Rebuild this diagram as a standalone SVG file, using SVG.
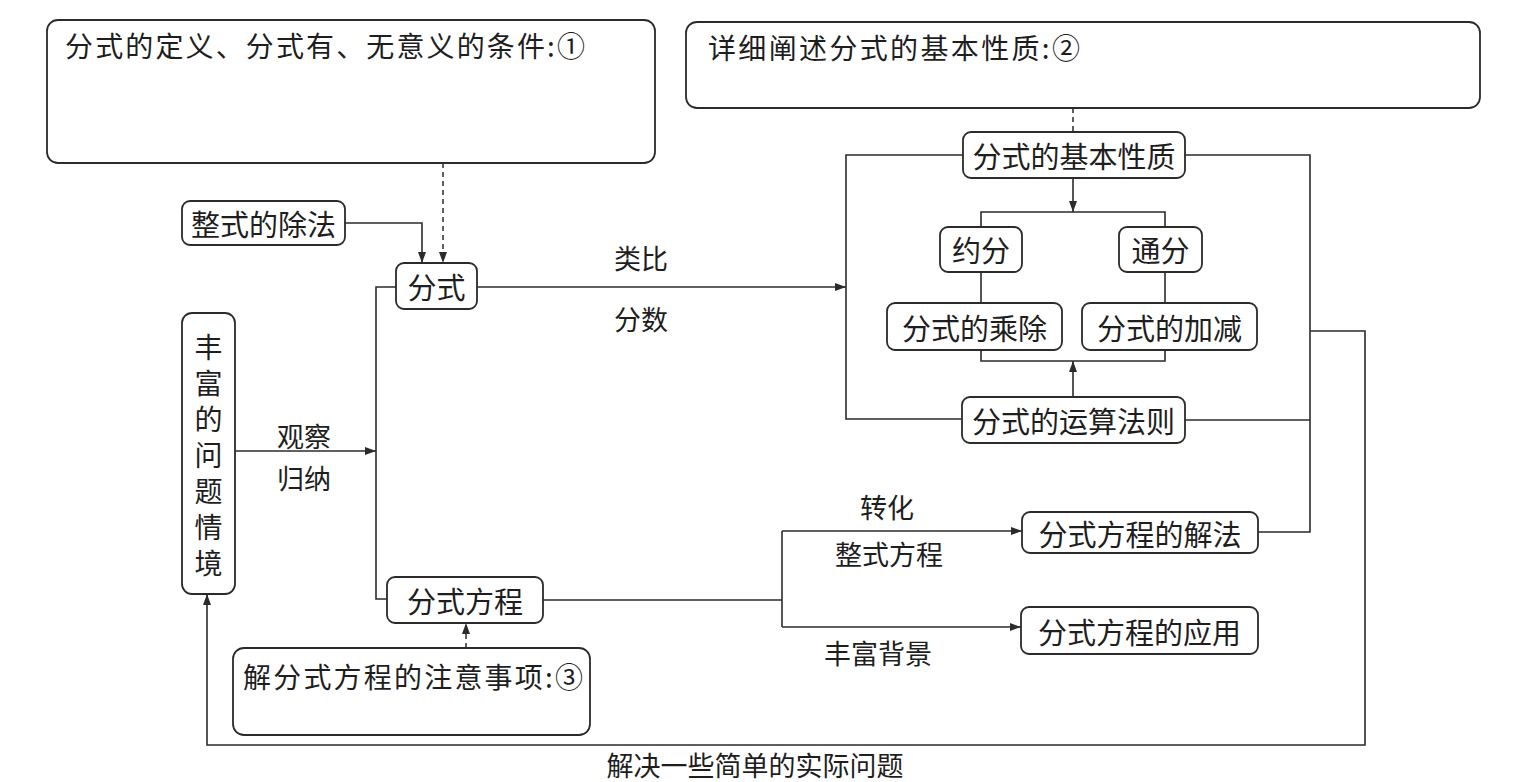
<svg xmlns="http://www.w3.org/2000/svg" width="1533" height="782" viewBox="0 0 1533 782">
<style>
.box{fill:#fff;stroke:#2b2b2b;stroke-width:1.8}
.ln{fill:none;stroke:#2b2b2b;stroke-width:1.6}
.dash{fill:none;stroke:#2b2b2b;stroke-width:1.5;stroke-dasharray:5 4}
text{font-family:"Noto Sans CJK SC","Noto Sans CJK JP",sans-serif;fill:#1e1e1e;dominant-baseline:central}
.t{font-size:29px;text-anchor:middle}
.n{font-size:28px}
.lab{font-size:27px;text-anchor:middle}
.v{font-size:28px;text-anchor:middle;writing-mode:vertical-rl;letter-spacing:8px}
</style>
<defs>
<marker id="ah" markerUnits="userSpaceOnUse" markerWidth="12" markerHeight="10" refX="11" refY="4" orient="auto">
<path d="M0,0 L11,4 L0,8 z" fill="#2b2b2b"/>
</marker>
</defs>

<g id="connectors">
<path class="dash" d="M443,163 V263" marker-end="url(#ah)"/>
<path class="ln" d="M345,223 H422 V263" marker-end="url(#ah)"/>
<path class="ln" d="M477,287 H846" marker-end="url(#ah)"/>
<path class="ln" d="M396,287 H376 V599 H387"/>
<path class="ln" d="M235,451 H376" marker-end="url(#ah)"/>
<path class="dash" d="M466,648 V623" marker-end="url(#ah)"/>
<path class="ln" d="M543,600 H782"/>
<path class="ln" d="M782,531 V627"/>
<path class="ln" d="M782,531 H1022" marker-end="url(#ah)"/>
<path class="ln" d="M782,627 H1021" marker-end="url(#ah)"/>
<path class="dash" d="M1073,108 V132"/>
<path class="ln" d="M963,155 H846 V419 H962"/>
<path class="ln" d="M1073,178 V212" marker-end="url(#ah)"/>
<path class="ln" d="M981,227 V212 H1165 V228"/>
<path class="ln" d="M981,272 V303"/>
<path class="ln" d="M1165,272 V303"/>
<path class="ln" d="M981,350 V361 H1165 V350"/>
<path class="ln" d="M1073,397 V361" marker-end="url(#ah)"/>
<path class="ln" d="M1185,155 H1310 V532 H1258"/>
<path class="ln" d="M1185,420 H1310"/>
<path class="ln" d="M1310,331 H1365 V745 H207 V594" marker-end="url(#ah)"/>
</g>

<g id="note1">
<rect class="box" x="47" y="20" width="608" height="143" rx="11"/>
<text class="n" x="65" y="45" textLength="520" lengthAdjust="spacing">分式的定义、分式有、无意义的条件:①</text>
</g>
<g id="note2">
<rect class="box" x="686" y="22" width="794" height="86" rx="11"/>
<text class="n" x="708" y="47" textLength="372" lengthAdjust="spacing">详细阐述分式的基本性质:②</text>
</g>
<g id="note3">
<rect class="box" x="233" y="648" width="357" height="87" rx="11"/>
<text class="n" x="243" y="676" textLength="340" lengthAdjust="spacing">解分式方程的注意事项:③</text>
</g>

<g id="zhengshi-chufa">
<rect class="box" x="182" y="201" width="163" height="44" rx="8"/>
<text class="t" x="263.5" y="223">整式的除法</text>
</g>
<g id="fenshi">
<rect class="box" x="396" y="263" width="81" height="46" rx="8"/>
<text class="t" x="436.5" y="286">分式</text>
</g>
<g id="qingjing">
<rect class="box" x="182" y="313" width="53" height="281" rx="10"/>
<text class="v" x="208.5" y="459">丰富的问题情境</text>
</g>
<g id="fenshi-fangcheng">
<rect class="box" x="387" y="577" width="156" height="46" rx="8"/>
<text class="t" x="465" y="600">分式方程</text>
</g>
<g id="jiben-xingzhi">
<rect class="box" x="963" y="132" width="222" height="46" rx="8"/>
<text class="t" x="1074" y="155">分式的基本性质</text>
</g>
<g id="yuefen">
<rect class="box" x="940" y="227" width="82" height="45" rx="8"/>
<text class="t" x="981" y="249">约分</text>
</g>
<g id="tongfen">
<rect class="box" x="1119" y="227" width="83" height="45" rx="8"/>
<text class="t" x="1160.5" y="249">通分</text>
</g>
<g id="chengchu">
<rect class="box" x="887" y="303" width="175" height="47" rx="8"/>
<text class="t" x="974.5" y="326.5">分式的乘除</text>
</g>
<g id="jiajian">
<rect class="box" x="1082" y="303" width="175" height="47" rx="8"/>
<text class="t" x="1169.5" y="326.5">分式的加减</text>
</g>
<g id="yunsuan-faze">
<rect class="box" x="962" y="397" width="223" height="46" rx="8"/>
<text class="t" x="1073.5" y="420">分式的运算法则</text>
</g>
<g id="jiefa">
<rect class="box" x="1022" y="512" width="236" height="41" rx="8"/>
<text class="t" x="1140" y="532.5">分式方程的解法</text>
</g>
<g id="yingyong">
<rect class="box" x="1021" y="607" width="237" height="47" rx="8"/>
<text class="t" x="1139.5" y="630.5">分式方程的应用</text>
</g>

<g id="labels">
<text class="lab" x="641" y="257">类比</text>
<text class="lab" x="641" y="318">分数</text>
<text class="lab" x="304" y="435">观察</text>
<text class="lab" x="304" y="477">归纳</text>
<text class="lab" x="887" y="506">转化</text>
<text class="lab" x="889" y="553">整式方程</text>
<text class="lab" x="878" y="652">丰富背景</text>
<text class="lab" x="755" y="764">解决一些简单的实际问题</text>
</g>
</svg>
